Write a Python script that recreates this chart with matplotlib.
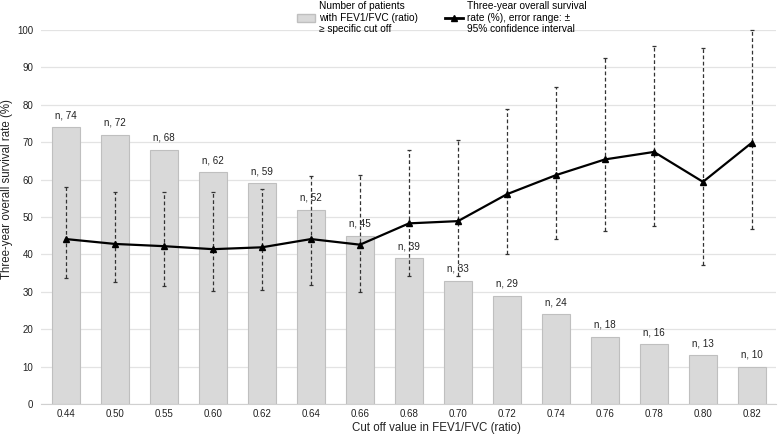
import matplotlib
matplotlib.use("Agg")
import matplotlib.pyplot as plt
from matplotlib.lines import Line2D
from matplotlib.patches import Patch
import numpy as np

plt.rcParams["font.family"] = ["Liberation Sans", "DejaVu Sans"]

cutoffs = ["0.44", "0.50", "0.55", "0.60", "0.62", "0.64", "0.66", "0.68",
           "0.70", "0.72", "0.74", "0.76", "0.78", "0.80", "0.82"]
n_patients = [74, 72, 68, 62, 59, 52, 45, 39, 33, 29, 24, 18, 16, 13, 10]
survival = [44.1, 42.8, 42.2, 41.4, 41.9, 44.1, 42.6, 48.3, 48.9, 56.1, 61.2, 65.4, 67.4, 59.4, 69.9]
ci_upper = [57.9, 56.8, 56.6, 56.7, 57.6, 61.0, 61.2, 67.9, 70.6, 78.8, 84.8, 92.4, 95.8, 95.1, 100.0]
ci_lower = [33.7, 32.5, 31.5, 30.3, 30.4, 31.8, 29.9, 34.2, 34.3, 40.1, 44.1, 46.3, 47.7, 37.2, 46.8]

x = np.arange(len(cutoffs))
surv = np.array(survival)
err = [surv - np.array(ci_lower), np.array(ci_upper) - surv]

fig = plt.figure(figsize=(7.8, 4.38), dpi=100)
ax = fig.add_axes([0.0532, 0.0776, 0.9423, 0.8539])

ax.bar(x, n_patients, width=0.57, color="#d9d9d9", edgecolor="#bfbfbf", linewidth=0.8, zorder=2)
for xi, n in zip(x, n_patients):
    ax.text(xi, n + 1.8, f"n, {n}", ha="center", va="bottom", fontsize=7.1, color="#222222", zorder=5)

eb = ax.errorbar(x, surv, yerr=err, fmt="none", ecolor="#333333", elinewidth=0.9,
                 capsize=1.5, capthick=0.9, zorder=3, clip_on=False)
for lc in eb[2]:
    lc.set_linestyle((0, (3, 2)))
ax.plot(x, surv, color="black", linewidth=1.6, marker="^", markersize=5, zorder=4)

ax.set_xlim(-0.5, len(cutoffs) - 0.5)
ax.set_ylim(0, 100)
ax.set_yticks(np.arange(0, 101, 10))
ax.set_xticks(x)
ax.set_xticklabels(cutoffs)
ax.grid(axis="y", color="#e3e3e3", linewidth=0.9, zorder=0)
ax.set_axisbelow(True)
for s in ["top", "right", "left"]:
    ax.spines[s].set_visible(False)
ax.spines["bottom"].set_color("#d0d0d0")
ax.tick_params(axis="both", length=0, labelsize=7.0, colors="#222222")
ax.tick_params(axis="y", pad=6)
ax.tick_params(axis="x", pad=3.5)
ax.set_xlabel("Cut off value in FEV1/FVC (ratio)", fontsize=8.3, color="#222222")
ax.set_ylabel("Three-year overall survival rate (%)", fontsize=8.3, color="#222222")
ax.yaxis.set_label_coords(-0.039, 0.575)
ax.xaxis.set_label_coords(0.537, -0.048)

handles = [Patch(facecolor="#d9d9d9", edgecolor="#bfbfbf"),
           Line2D([0], [0], color="black", linewidth=2, marker="^", markersize=4)]
labels = ["Number of patients\nwith FEV1/FVC (ratio)\n\u2265 specific cut off",
          "Three-year overall survival\nrate (%), error range: \u00b1\n95% confidence interval"]
fig.legend(handles, labels, ncol=2, loc="upper left", bbox_to_anchor=(0.3756, 1.007),
           borderaxespad=0, frameon=False, fontsize=7.3, handlelength=1.8, columnspacing=2.6,
           handletextpad=0.4, labelspacing=0.3)

plt.savefig("out.png", dpi=100)
plt.close()
